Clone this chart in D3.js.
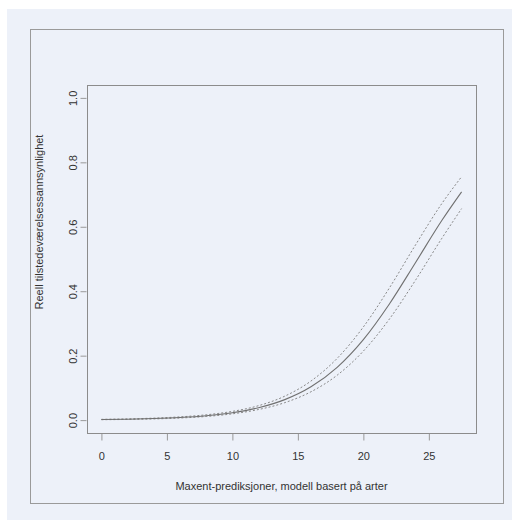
<!DOCTYPE html>
<html>
<head>
<meta charset="utf-8">
<script src="https://cdn.jsdelivr.net/npm/d3@7"></script>
<style>
  body { margin: 0; background: #fff; }
  svg { display: block; }
</style>
</head>
<body>
<svg id="chart"></svg>
<script>
// Values (x = Maxent prediction, y = probability)
const xVals     = [0, 2, 4, 6, 8, 10, 12, 14, 16, 18, 20, 22, 24, 26, 27.5];
const fitVals   = [0.0017, 0.0028, 0.0048, 0.0081, 0.0136, 0.0230, 0.0384, 0.0636, 0.1034, 0.1638, 0.2497, 0.3612, 0.4900, 0.6201, 0.7084];
const upperVals = [0.0024, 0.0038, 0.0062, 0.0101, 0.0165, 0.0271, 0.0448, 0.0743, 0.1213, 0.1916, 0.2891, 0.4110, 0.5449, 0.6726, 0.7554];
const lowerVals = [0.0012, 0.0021, 0.0037, 0.0065, 0.0113, 0.0195, 0.0329, 0.0542, 0.0879, 0.1394, 0.2142, 0.3143, 0.4354, 0.5646, 0.6564];
const xTicks = [0, 5, 10, 15, 20, 25];
const yTicks = [0, 0.2, 0.4, 0.6, 0.8, 1.0];
const xTitle = "Maxent-prediksjoner, modell basert på arter";
const yTitle = "Reell tilstedeværelsessannsynlighet";

function main() {
    const W = 512, H = 520;
    const plot = {left: 87, top: 85, right: 476, bottom: 433};
    const font = "Liberation Sans, Arial, sans-serif";

    const svg = d3.select("svg#chart")
        .attr("width", W)
        .attr("height", H);

    // background panel + outer frame
    svg.append("rect")
        .attr("x", 7).attr("y", 9)
        .attr("width", W - 7).attr("height", H - 9)
        .attr("fill", "#edf1f9");
    svg.append("rect")
        .attr("x", 30.5).attr("y", 29.5)
        .attr("width", 473).attr("height", 474)
        .attr("fill", "none")
        .attr("stroke", "#9a9a9a");

    // R-style 4% padding on both axes
    const x = d3.scaleLinear()
        .domain([-1.1, 28.6])
        .range([plot.left, plot.right]);
    const y = d3.scaleLinear()
        .domain([-0.04, 1.04])
        .range([plot.bottom, plot.top]);

    // x axis (ticks only, no axis line)
    const xAxis = svg.append("g")
        .attr("transform", "translate(0," + (plot.bottom + 0.5) + ")")
        .call(d3.axisBottom(x).tickValues(xTicks).tickSize(7).tickPadding(12).tickFormat(d3.format("d")));
    xAxis.select(".domain").remove();
    xAxis.selectAll("line").attr("stroke", "#999");
    xAxis.selectAll("text")
        .attr("font-family", font)
        .attr("font-size", 11)
        .attr("fill", "#333");

    const yAxis = svg.append("g")
        .attr("transform", "translate(" + (plot.left - 0.5) + ",0)")
        .call(d3.axisLeft(y).tickValues(yTicks).tickSize(6).tickFormat(d3.format(".1f")));
    yAxis.select(".domain").remove();
    yAxis.selectAll("line").attr("stroke", "#999");
    yAxis.selectAll("text")
        .attr("font-family", font)
        .attr("font-size", 11)
        .attr("fill", "#333")
        .attr("text-anchor", "middle")
        .attr("dy", null)
        .attr("x", 0).attr("y", 0)
        .attr("transform", "translate(-14,0) rotate(-90) translate(0,4)");

    // plot box
    svg.append("rect")
        .attr("x", plot.left + 0.5).attr("y", plot.top + 0.5)
        .attr("width", plot.right - plot.left).attr("height", plot.bottom - plot.top)
        .attr("fill", "none")
        .attr("stroke", "#8c8c8c");

    // curves
    const mk = vals => d3.line()
        .x((d, i) => x(xVals[i]))
        .y(d => y(d))
        .curve(d3.curveMonotoneX)(vals);

    svg.append("path").attr("d", mk(upperVals))
        .attr("fill", "none").attr("stroke", "#888")
        .attr("stroke-width", 1).attr("stroke-dasharray", "2,2");
    svg.append("path").attr("d", mk(lowerVals))
        .attr("fill", "none").attr("stroke", "#888")
        .attr("stroke-width", 1).attr("stroke-dasharray", "2,2");
    svg.append("path").attr("d", mk(fitVals))
        .attr("fill", "none").attr("stroke", "#707070")
        .attr("stroke-width", 1.1);

    // titles
    svg.append("text").text(xTitle)
        .attr("x", (plot.left + plot.right) / 2)
        .attr("y", 490)
        .attr("text-anchor", "middle")
        .attr("font-family", font)
        .attr("font-size", 11)
        .attr("fill", "#333");
    svg.append("text").text(yTitle)
        .attr("text-anchor", "middle")
        .attr("font-family", font)
        .attr("font-size", 11)
        .attr("fill", "#333")
        .attr("transform", "translate(43,222) rotate(-90)");
}

main()
</script>
</body>
</html>
